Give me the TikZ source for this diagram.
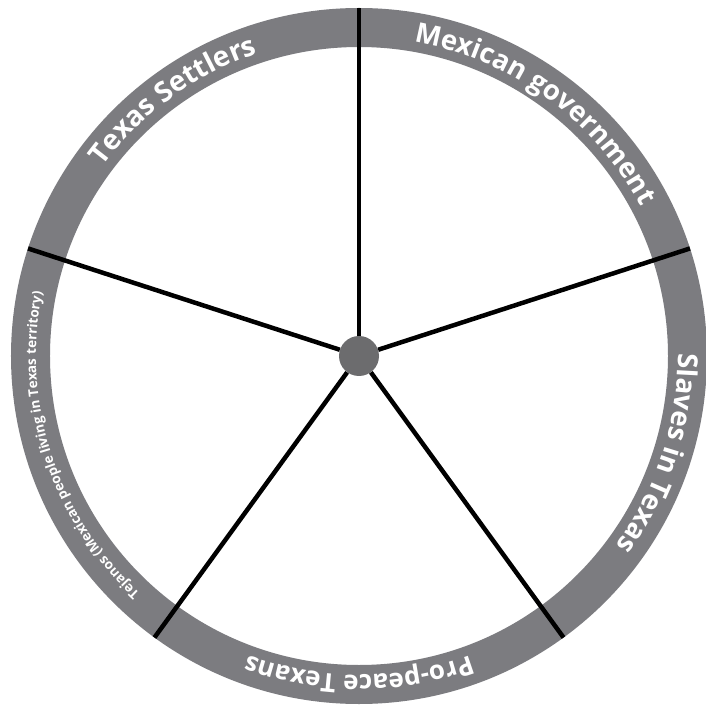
\documentclass[tikz,border=0pt]{standalone}
\usepackage{fontspec}
\setmainfont{Open Sans}
\usetikzlibrary{decorations.text}
\definecolor{ringgray}{RGB}{124,124,128}
\definecolor{hubgray}{RGB}{108,108,110}
\begin{document}
\begin{tikzpicture}[x=1pt,y=1pt,
  spoke/.style={line width=4.5pt, black},
  arctext/.style={decorate, decoration={text along path, text align=center, text={#1}}}]
\useasboundingbox (-359,-350) rectangle (347,356);
\fill[white] (-359,-350) rectangle (347,356);
\fill[ringgray,even odd rule] (0,0) circle (348) (0,0) circle (309);
\foreach \a/\n in {90/a,18/b,306/c,234/d,162/e} \coordinate (\n) at (\a:348);
\node[circle, fill=hubgray, minimum size=40pt, inner sep=0pt] (hub) at (0,0) {};
\foreach \n in {a,b,c,d,e} \draw[spoke] (hub) -- (\n);
\path[arctext={|\fontsize{28}{28}\selectfont\bfseries\color{white}|Texas Settlers}] (162:319) arc (162:90:319);
\path[arctext={|\fontsize{27.5}{27.5}\selectfont\bfseries\color{white}|Mexican government}] (90:319) arc (90:18:319);
\path[arctext={|\fontsize{27.5}{27.5}\selectfont\bfseries\color{white}|Slaves in Texas}] (18:319) arc (18:-54:319);
\path[arctext={|\fontsize{26}{26}\selectfont\bfseries\color{white}|Pro-peace Texans}] (-54:319) arc (-54:-126:319);
\path[arctext={|\fontsize{13.5}{13.5}\selectfont\bfseries\color{white}|Tejanos (Mexican people living in Texas territory)}] (234:323) arc (234:162:323);
\end{tikzpicture}
\end{document}
